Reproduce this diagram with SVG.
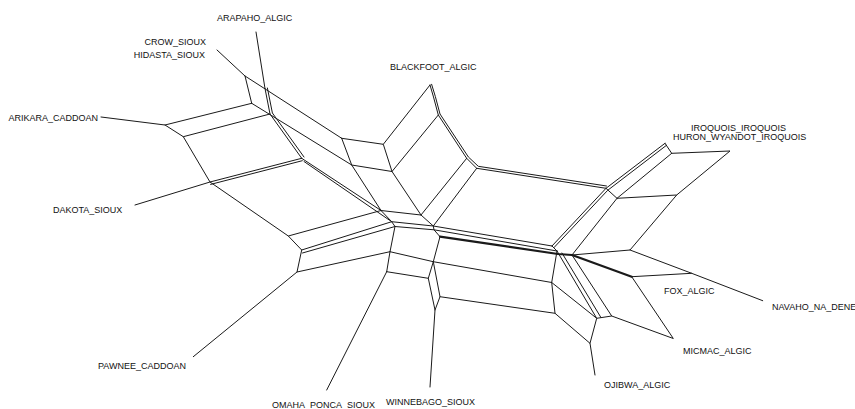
<svg xmlns="http://www.w3.org/2000/svg" width="855" height="409" viewBox="0 0 855 409">
<style>
.e{fill:none;stroke:#1a1a1a;stroke-width:1;stroke-linejoin:round;stroke-linecap:round}
.t{stroke-width:2.2}
text{font-family:"Liberation Sans",Arial,sans-serif;font-size:9px;fill:#111}
</style>
<rect width="855" height="409" fill="#fff"/>
<g id="connectors">
<path class="e" d="M101,117 L165,125 L251.7,103.3 M165,125 L183.3,136.7 L270,114 M183.3,136.7 L210,182 L301.7,158.3 M210.6,184.4 L302.3,160.7"/>
<path class="e" d="M251.7,103.3 L351.7,165 M245,76 L341.7,138.3 M245,76 L251.7,103.3 M217,50 L245,76 M256,32 L265,88.5"/>
<path class="e" d="M265,88.5 L270,114 L301.7,158.3 M267.4,88 L272.4,113 L304,157"/>
<path class="e" d="M341.7,138.3 L351.7,165 L392,171.5 L383.3,144.3 L341.7,138.3 M383.3,144.3 L430,85 M392,171.5 L438.3,115"/>
<path class="e" d="M430,85 L433.5,97 L438.3,115 L466.7,158.3 L476.7,168.3 L606,188.3 M431.6,84.3 L435.3,96.4 L440,114 L468.4,157 L478.3,166.3 L606.5,186"/>
<path class="e" d="M351.7,165 L381,210.5 L421,215 L392,171.5 M421,215 L466.7,158.3 M421,215 L433.3,226 L476.7,168.3 M381,210.5 L391.7,221.7 L433.3,226 L552,246 M391.7,221.7 L395,226.5 L434,229.8 L557,251 M433.3,226 L434,229.8 L440,236.7"/>
<path class="e t" d="M440,236.7 L558,254 L572,255 L631.7,276.7"/>
<path class="e" d="M395,226.5 L390,251.7 L386.7,271.7 M390,251.7 L433.3,261.7 M386.7,271.7 L428.3,278.3 M440,236.7 L433.3,261.7 L428.3,278.3 L435,310 L430,387 M433.3,261.7 L440,296.7 L435,310 M433.3,261.7 L551.7,282.5 M440,296.7 L555,313.3 M386.7,271.7 L326.7,390"/>
<path class="e" d="M135,205 L210,182 L288.3,236 L381,210.5 M288.3,236 L301.7,250 L391.7,221.7 M302.5,253 L395,226.5 M301.7,250 L297,272 L390,251.7 M297,272 L193.3,356.7 M301.7,158.3 L381,210.5 M304,161.5 L391.7,221.7"/>
<path class="e" d="M552,246 L606,188.3 L665,143.3 M554,247.6 L607.7,190.3 L666.5,145.3 M572,255 L617,198.3 L671.7,153.3 M606,188.3 L617,198.3 M665,143.3 L671.7,153.3 L730,151 L676.7,195 L617,198.3 M676.7,195 L630,250 L572,255 M630,250 L691.7,273.3 L631.7,276.7 M691.7,273.3 L762.7,300.7 M631.7,276.7 L673.3,338.5 L611.7,316"/>
<path class="e" d="M552,246 L557,251 M557,251 L596.7,318.3 L611.7,316 L572,255 M562,253 L601,317.6 M557,251 L551.7,282.5 L555,313.3 L590,343.3 L595,375 M551.7,282.5 L596.7,318.3 L590,343.3"/>
</g>
<g id="ARAPAHO_ALGIC"><text x="217" y="21">ARAPAHO_ALGIC</text></g>
<g id="CROW_SIOUX"><text x="206" y="45" text-anchor="end">CROW_SIOUX</text></g>
<g id="HIDASTA_SIOUX"><text x="205" y="58" text-anchor="end">HIDASTA_SIOUX</text></g>
<g id="ARIKARA_CADDOAN"><text x="98" y="121" text-anchor="end">ARIKARA_CADDOAN</text></g>
<g id="BLACKFOOT_ALGIC"><text x="390" y="70">BLACKFOOT_ALGIC</text></g>
<g id="IROQUOIS_IROQUOIS"><text x="691" y="131">IROQUOIS_IROQUOIS</text></g>
<g id="HURON_WYANDOT_IROQUOIS"><text x="673" y="140">HURON_WYANDOT_IROQUOIS</text></g>
<g id="DAKOTA_SIOUX"><text x="53" y="213">DAKOTA_SIOUX</text></g>
<g id="PAWNEE_CADDOAN"><text x="98" y="369">PAWNEE_CADDOAN</text></g>
<g id="OMAHA_PONCA_SIOUX"><text x="272" y="408">OMAHA_PONCA_SIOUX</text></g>
<g id="WINNEBAGO_SIOUX"><text x="386" y="405">WINNEBAGO_SIOUX</text></g>
<g id="OJIBWA_ALGIC"><text x="604" y="388">OJIBWA_ALGIC</text></g>
<g id="MICMAC_ALGIC"><text x="683" y="354">MICMAC_ALGIC</text></g>
<g id="FOX_ALGIC"><text x="664" y="294">FOX_ALGIC</text></g>
<g id="NAVAHO_NA_DENE"><text x="772" y="310">NAVAHO_NA_DENE</text></g>
</svg>
